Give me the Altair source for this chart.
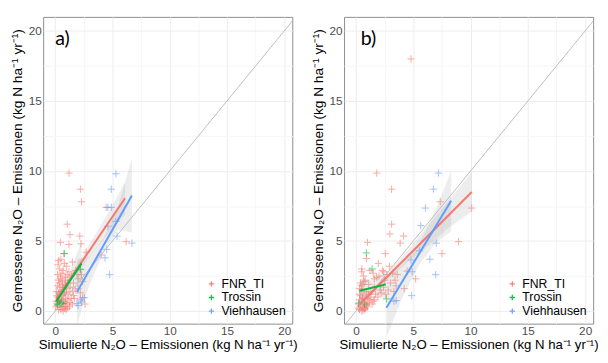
import altair as alt
import pandas as pd

SITES = ["FNR_TI", "Trossin", "Viehhausen"]
COLORS = ["#F8766D", "#00BA38", "#619CFF"]
PLUS = "M-1,0L1,0M0,-1L0,1"

# ---------------- panel a) points ----------------
a_fnr_x = [1.2, 2.2, 2.3, 1.05, 1.3, 2.15, 0.45, 1.2, 2.25, 2.7, 4.0, 4.45, 6.2,
           0.3, 0.5, 0.8, 1.0, 1.5, 0.4, 0.7, 1.2, 1.8, 2.2, 0.2, 0.5, 0.9, 1.4, 2.0,
           0.3, 0.6, 1.1, 1.6, 2.4, 0.2, 0.4, 0.7, 1.0, 1.3, 1.8, 0.1, 0.3, 0.5, 0.8,
           1.2, 1.6, 2.2, 0.2, 0.4, 0.6, 0.9, 1.1, 1.4, 0.1, 0.3, 0.5, 0.7, 1.0, 1.3,
           0.2, 0.4, 0.6, 0.8, 0.5, 0.7, 0.9, 0.3, 1.1, 0.15, 0.35, 0.55, 0.75, 0.95,
           0.65, 0.85, 1.05, 0.45, 0.25, 0.75, 2.6,
           1.7, 2.0, 2.3, 1.9, 1.5, 0.9, 0.6, 0.35, 0.15, 0.05, 0.6, 0.85, 1.25, 0.95,
           1.5, 2.4]
a_fnr_y = [9.85, 8.7, 7.8, 6.2, 5.45, 5.35, 4.9, 4.75, 4.8, 4.2, 4.0, 7.4, 4.95,
           3.6, 3.7, 3.4, 3.2, 3.5, 3.0, 2.9, 2.8, 2.9, 3.0, 2.6, 2.5, 2.4, 2.5, 2.3,
           2.2, 2.1, 2.0, 2.0, 2.1, 1.8, 1.7, 1.7, 1.6, 1.7, 1.5, 1.4, 1.3, 1.4, 1.3,
           1.2, 1.1, 1.3, 1.0, 1.0, 1.1, 0.9, 0.8, 0.9, 0.7, 0.7, 0.6, 0.7, 0.5, 0.6,
           0.4, 0.3, 0.3, 0.2, 0.1, 0.0, 0.3, 0.1, 0.2, 0.55, 0.85, 0.8, 1.2, 1.35,
           1.9, 2.2, 2.6, 2.3, 3.3, 4.1, 0.5,
           0.9, 1.6, 2.6, 2.6, 1.4, 1.8, 2.7, 2.0, 1.1, 0.3, 0.55, 0.65, 0.35, 0.1,
           0.5, 0.95]
a_tro_x = [0.8, 2.2, 0.25, 0.5, 0.2, 0.7, 0.4]
a_tro_y = [4.1, 2.95, 0.7, 0.6, 0.45, 0.55, 0.5]
a_vie_x = [5.3, 4.9, 4.6, 4.9, 5.3, 4.6, 5.4, 6.7, 4.5, 4.35, 4.75, 2.55, 2.2, 1.9, 2.3, 2.0]
a_vie_y = [9.8, 8.7, 7.4, 7.4, 6.4, 6.05, 5.35, 4.85, 4.4, 3.8, 2.6, 0.95, 0.8, 0.55, 0.65, 0.4]

# ---------------- panel b) points ----------------
b_fnr_x = [1.8, 3.1, 4.8, 3.1, 2.95, 4.15, 3.85, 1.0, 0.9, 2.55, 7.35, 10.1, 8.95, 7.5,
           4.2, 5.2, 4.45, 0.5, 1.95, 1.5, 2.0, 2.5, 3.0, 3.5, 2.8, 2.2, 1.7, 1.3, 1.0,
           0.3, 0.5, 0.7, 0.9, 1.1, 1.3, 0.4, 0.6, 0.8, 1.2, 1.5, 0.3, 0.5, 0.7, 0.9,
           0.2, 0.4, 0.6, 0.8, 1.0, 0.3, 0.5, 0.7, 0.9, 1.1, 0.4, 0.6, 0.8, 1.6, 2.1,
           2.6, 3.3, 1.8, 2.4, 0.35, 0.55, 0.75, 0.45, 0.65, 1.4, 3.6, 2.9,
           1.2, 1.6, 2.3, 2.7, 3.2, 3.4, 2.1, 1.6, 1.9, 2.4, 1.1, 0.7, 0.5, 0.3, 0.2, 0.6]
b_fnr_y = [9.85, 8.7, 18.0, 6.2, 5.5, 5.35, 4.85, 4.9, 3.75, 4.1, 7.8, 7.35, 4.95, 4.1,
           1.6, 2.3, 2.85, 3.0, 3.4, 2.7, 2.5, 2.2, 2.0, 1.8, 1.5, 1.3, 1.2, 1.0, 0.9,
           1.6, 1.5, 1.4, 1.3, 1.2, 1.4, 1.1, 1.0, 0.9, 0.8, 0.7, 0.8, 0.7, 0.6, 0.5,
           0.5, 0.4, 0.3, 0.2, 0.3, 0.1, 0.0, 0.2, 0.4, 0.6, 2.0, 1.9, 2.2, 1.7, 1.8,
           1.2, 1.4, 2.4, 2.8, 0.3, 0.9, 0.1, 1.8, 2.5, 0.5, 2.6, 3.2,
           2.9, 2.3, 2.9, 2.6, 2.7, 2.2, 1.5, 0.8, 1.0, 1.7, 1.9, 2.1, 2.8, 1.2, 0.2, 0.05]
b_tro_x = [0.9, 1.4, 2.65, 0.25, 0.75]
b_tro_y = [4.15, 3.0, 0.87, 0.57, 0.5]
b_vie_x = [7.2, 6.75, 6.05, 5.65, 7.0, 5.55, 4.8, 6.45, 6.95, 4.9, 4.85, 3.5, 3.3]
b_vie_y = [9.85, 8.7, 7.35, 6.1, 4.85, 4.3, 3.65, 3.7, 2.6, 2.8, 1.1, 0.75, 0.7]

# ---------------- fitted lines ----------------
a_fit = {"FNR_TI": ([0.1, 6.1], [0.85, 8.05]),
         "Trossin": ([0.1, 2.3], [0.7, 3.4]),
         "Viehhausen": ([1.9, 6.7], [1.35, 8.25])}
b_fit = {"FNR_TI": ([0.3, 10.1], [0.47, 8.5]),
         "Trossin": ([0.3, 2.6], [1.45, 1.9]),
         "Viehhausen": ([2.65, 8.3], [0.23, 7.88])}

# ---------------- confidence bands ----------------
a_band = {"FNR_TI": ([0.1, 1.0, 2.0, 3.0, 4.0, 5.0, 6.1],
                     [0.55, 1.7, 2.8, 3.85, 4.9, 5.9, 6.9],
                     [1.15, 2.15, 3.45, 4.8, 6.15, 7.55, 9.2]),
          "Trossin": ([0.1, 1.2, 2.3], [0.1, 1.5, 1.8], [1.3, 2.6, 5.0]),
          "Viehhausen": ([1.9, 3.0, 4.3, 5.5, 6.7],
                         [-1.0, 1.9, 4.3, 5.8, 5.6],
                         [3.7, 3.9, 5.3, 7.5, 10.9])}
b_band = {"FNR_TI": ([0.3, 1.5, 3.0, 4.5, 6.0, 8.0, 10.1],
                     [0.25, 1.3, 2.4, 3.5, 4.45, 5.9, 7.1],
                     [0.7, 1.6, 2.95, 4.3, 5.85, 7.8, 9.9]),
          "Trossin": ([0.3, 1.4, 2.6], [0.6, 1.2, 0.9], [2.3, 2.2, 2.9]),
          "Viehhausen": ([2.65, 4.0, 5.5, 7.0, 8.3],
                         [-1.9, 0.9, 3.3, 4.9, 5.7],
                         [2.4, 3.3, 4.8, 7.3, 10.0])}

diag = [-2, 23]
XDOM = [-1.05, 20.7]
YDOM = [-0.9, 21.0]
XTITLE = "Simulierte N\u2082O \u2013 Emissionen (kg N ha\u207b\u00b9 yr\u207b\u00b9)"
YTITLE = "Gemessene N\u2082O \u2013 Emissionen (kg N ha\u207b\u00b9 yr\u207b\u00b9)"
FONT = "Liberation Sans"
W, H = 255, 314


def pts_df(groups):
    rows = []
    for site, (xs, ys) in zip(SITES, groups):
        rows += [{"x": x, "y": y, "site": site} for x, y in zip(xs, ys)]
    return pd.DataFrame(rows)


def line_df(d):
    rows = []
    for site in SITES:
        xs, ys = d[site]
        rows += [{"x": x, "y": y, "site": site} for x, y in zip(xs, ys)]
    return pd.DataFrame(rows)


def band_df(d):
    rows = []
    for site in SITES:
        xs, lo, hi = d[site]
        rows += [{"x": x, "lo": l, "hi": h, "site": site} for x, l, h in zip(xs, lo, hi)]
    return pd.DataFrame(rows)


grid_vals = [0, 2.5, 5, 7.5, 10, 12.5, 15, 17.5, 20]
major = "datum.value % 5 === 0"


def xaxis():
    return alt.Axis(values=grid_vals, labelExpr=f"{major} ? datum.label : ''",
                    ticks=False, domain=False, labelPadding=2, titlePadding=1,
                    gridColor={"condition": {"test": major, "value": "#EDEDED"}, "value": "#F6F6F6"},
                    labelFontSize=12, labelColor="#4D4D4D", titleFontSize=13.5,
                    titleFontWeight="normal", titleColor="#000000", labelFont=FONT, titleFont=FONT)


def yaxis():
    return alt.Axis(values=grid_vals, labelExpr=f"{major} ? datum.label : ''",
                    ticks=False, domain=False, labelPadding=2, titlePadding=4,
                    gridColor={"condition": {"test": major, "value": "#EDEDED"}, "value": "#F6F6F6"},
                    labelFontSize=12, labelColor="#4D4D4D", titleFontSize=14,
                    titleFontWeight="normal", titleColor="#000000", labelFont=FONT, titleFont=FONT)


color_scale = alt.Scale(domain=SITES, range=COLORS)
legend = alt.Legend(title=None, orient="bottom-right", offset=6, symbolType=PLUS,
                    symbolSize=30, symbolStrokeWidth=1.3, labelFontSize=12.5, labelFont=FONT,
                    labelColor="#000000", rowPadding=1, symbolOpacity=0.9)


def panel(points, fits, bands, label, label_x):
    xs = alt.Scale(domain=XDOM, nice=False, zero=False)
    ys = alt.Scale(domain=YDOM, nice=False, zero=False)
    base_x = alt.X("x:Q", scale=xs, axis=xaxis(), title=XTITLE)
    base_y = alt.Y("y:Q", scale=ys, axis=yaxis(), title=YTITLE)

    band = alt.Chart(band_df(bands)).mark_area(color="#999999", opacity=0.18).encode(
        x=base_x, y=alt.Y("lo:Q", scale=ys, axis=yaxis(), title=YTITLE), y2="hi:Q",
        detail="site:N")
    dg = alt.Chart(pd.DataFrame({"x": diag, "y": diag})).mark_line(
        color="#BDBDBD", strokeWidth=1, clip=True).encode(x=base_x, y=base_y)
    pts = alt.Chart(pts_df(points)).mark_point(shape=PLUS, filled=False, size=56,
                                                 strokeWidth=1, opacity=0.6).encode(
        x=base_x, y=base_y,
        color=alt.Color("site:N", scale=color_scale, legend=legend))
    lines = alt.Chart(line_df(fits)).mark_line(strokeWidth=2).encode(
        x=base_x, y=base_y,
        color=alt.Color("site:N", scale=color_scale, legend=legend))
    txt = alt.Chart(pd.DataFrame({"x": [label_x], "y": [19.4], "t": [label]})).mark_text(
        align="left", baseline="middle", fontSize=20, font="Lato", color="#000000").encode(
        x=base_x, y=base_y, text="t:N")
    return alt.layer(pts, band, dg, lines, txt).properties(width=W, height=H)


pa = panel([(a_fnr_x, a_fnr_y), (a_tro_x, a_tro_y), (a_vie_x, a_vie_y)], a_fit, a_band, "a)", 0.0)
pb = panel([(b_fnr_x, b_fnr_y), (b_tro_x, b_tro_y), (b_vie_x, b_vie_y)], b_fit, b_band, "b)", 0.4)

chart = alt.hconcat(pa, pb, spacing=12).resolve_scale(color="independent").resolve_legend(
    color="independent").properties(
    padding={"left": 2, "top": 4, "right": 0, "bottom": 0}
).configure_view(stroke="#8C8C8C", strokeWidth=1)

chart.save("out.html", embed_options={"renderer": "svg", "actions": False})
